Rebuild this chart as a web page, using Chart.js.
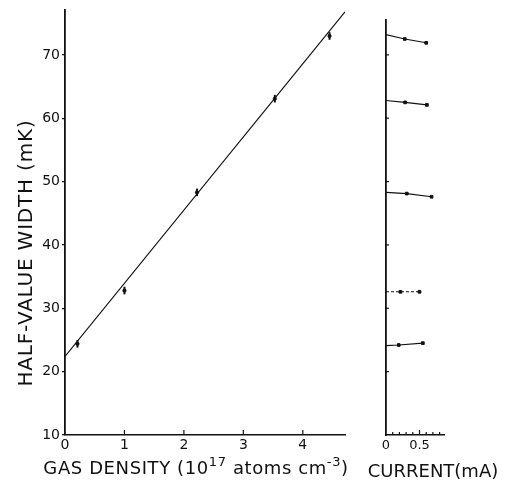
<!DOCTYPE html>
<html><head><meta charset="utf-8">
<script src="https://cdn.jsdelivr.net/npm/chart.js@4/dist/chart.umd.min.js"></script>
<style>
html,body{margin:0;padding:0;background:#fff;}
#wrap{position:relative;width:505px;height:482px;overflow:hidden;background:#fff;}
#c1{position:absolute;left:0;top:0;}
#c2{position:absolute;left:360px;top:0;}
</style></head><body>
<div id="wrap"><canvas id="c1" width="360" height="482"></canvas><canvas id="c2" width="145" height="482"></canvas></div>
<script>
// ---- Left panel: half-value width vs gas density ----
const densityX = [0.21, 1.00, 2.22, 3.53, 4.45];
const widthY   = [24.4, 32.8, 48.3, 63.1, 73.0];
const fitX = [0, 4.71];
const fitY = [22.4, 76.8];
const densityTicks = [0, 1, 2, 3, 4];
const widthTicks = [10, 20, 30, 40, 50, 60, 70];

// ---- Right panel: half-value width vs current ----
const currentS1 = [0, 0.28, 0.60]; const widthS1 = [73.2, 72.5, 71.9];
const currentS2 = [0, 0.285, 0.61]; const widthS2 = [62.8, 62.5, 62.1];
const currentS3 = [0, 0.31, 0.68]; const widthS3 = [48.3, 48.1, 47.6];
const currentS4 = [0, 0.215, 0.50]; const widthS4 = [32.6, 32.6, 32.6];
const currentS5 = [0, 0.19, 0.55]; const widthS5 = [24.1, 24.2, 24.5];
const currentTicks = [0, 0.5];
const currentMinorTicks = [0.1, 0.2, 0.3, 0.4, 0.6, 0.7, 0.8];
const rightWidthTicks = [20, 30, 40, 50, 60, 70];

// ---- Texts ----
const yTitle = 'HALF-VALUE WIDTH (mK)';
const xTitleParts = [['GAS DENSITY (10', false], ['17', true], [' atoms cm', false], ['-3', true], [')', false]];
const x2Title = 'CURRENT(mA)';

const FONT = '"DejaVu Sans", "Liberation Sans", sans-serif';
const INK = '#111';

const toPts = (xs, ys) => xs.map((x, i) => ({x: x, y: ys[i]}));

function innerTicksPlugin(spec) {
  return {
    id: 'innerTicks',
    afterDraw(chart) {
      const ctx = chart.ctx, a = chart.chartArea;
      ctx.save();
      ctx.strokeStyle = INK; ctx.lineWidth = 1.2;
      (spec.x || []).forEach(g => g.values.forEach(v => {
        const px = chart.scales.x.getPixelForValue(v);
        ctx.beginPath(); ctx.moveTo(px, a.bottom); ctx.lineTo(px, a.bottom - g.len); ctx.stroke();
      }));
      (spec.y || []).forEach(g => g.values.forEach(v => {
        const py = chart.scales.y.getPixelForValue(v);
        ctx.beginPath(); ctx.moveTo(a.left, py); ctx.lineTo(a.left + g.len, py); ctx.stroke();
      }));
      ctx.restore();
    }
  };
}

function drawParts(ctx, parts, cx, baseline, size, supSize, spacing) {
  ctx.letterSpacing = spacing + 'px';
  let total = 0;
  const widths = parts.map(p => {
    ctx.font = (p[1] ? supSize : size) + 'px ' + FONT;
    const w = ctx.measureText(p[0]).width; total += w; return w;
  });
  let x = cx - total / 2;
  parts.forEach((p, i) => {
    ctx.font = (p[1] ? supSize : size) + 'px ' + FONT;
    ctx.fillText(p[0], x, p[1] ? baseline - size * 0.45 : baseline);
    x += widths[i];
  });
}

const leftTitles = {
  id: 'leftTitles',
  afterDraw(chart) {
    const ctx = chart.ctx;
    ctx.save();
    ctx.fillStyle = INK; ctx.textBaseline = 'alphabetic'; ctx.textAlign = 'left';
    drawParts(ctx, xTitleParts, 196, 474, 18, 13, 0.6);
    ctx.translate(32, 253);
    ctx.rotate(-Math.PI / 2);
    ctx.font = '20px ' + FONT; ctx.letterSpacing = '0.8px'; ctx.textAlign = 'center';
    ctx.fillText(yTitle, 0, 0);
    ctx.restore();
  }
};

const rightTitles = {
  id: 'rightTitles',
  afterDraw(chart) {
    const ctx = chart.ctx;
    ctx.save();
    ctx.fillStyle = INK; ctx.textBaseline = 'alphabetic'; ctx.textAlign = 'center';
    ctx.font = '18px ' + FONT; ctx.letterSpacing = '0px';
    ctx.fillText(x2Title, 73, 477);
    ctx.restore();
  }
};

Chart.defaults.font.family = FONT;
Chart.defaults.color = INK;

// ---- Left chart ----
new Chart(document.getElementById('c1'), {
  type: 'scatter',
  data: {
    datasets: [
      { data: toPts(fitX, fitY), showLine: true, borderColor: INK, borderWidth: 1.2, pointRadius: 0 },
      { data: toPts(densityX, widthY), pointStyle: 'line', rotation: 90, pointRadius: 3.8,
        borderColor: INK, borderWidth: 2, backgroundColor: INK },
      { data: toPts(densityX, widthY), pointStyle: 'circle', pointRadius: 1.8,
        borderColor: INK, borderWidth: 0.5, backgroundColor: INK }
    ]
  },
  options: {
    responsive: false, animation: false, devicePixelRatio: 1,
    layout: { padding: { left: 0, right: 15, top: 10, bottom: 0 } },
    plugins: { legend: { display: false }, tooltip: { enabled: false } },
    scales: {
      x: {
        type: 'linear', min: 0, max: 4.71,
        afterFit(s) { s.height = 47; s.paddingLeft = 0; s.paddingRight = 0; },
        afterBuildTicks(s) { s.ticks = densityTicks.map(v => ({value: v})); },
        ticks: { font: { size: 14 }, padding: 2, color: INK, autoSkip: false, maxRotation: 0 },
        grid: { display: true, drawOnChartArea: false, drawTicks: false, color: 'rgba(0,0,0,0)' },
        border: { display: true, color: INK, width: 1.5 }
      },
      y: {
        type: 'linear', min: 10, max: 77.1,
        afterFit(s) { s.width = 65; s.paddingTop = 0; s.paddingBottom = 0; },
        afterBuildTicks(s) { s.ticks = widthTicks.map(v => ({value: v})); },
        ticks: { font: { size: 14 }, padding: 2, color: INK, autoSkip: false },
        grid: { display: true, drawOnChartArea: false, drawTicks: true, tickLength: 3, color: INK, lineWidth: 1.2 },
        border: { display: true, color: INK, width: 1.8 }
      }
    }
  },
  plugins: [innerTicksPlugin({ x: [{ values: densityTicks.slice(1), len: 5 }] }), leftTitles]
});

// ---- Right chart ----
function rightSet(xs, ys, dash) {
  return {
    data: toPts(xs, ys), showLine: true, borderColor: INK, borderWidth: 1.1,
    borderDash: dash || [], pointStyle: 'rect',
    pointRadius: xs.map((x, i) => i === 0 ? 0 : 1.9),
    backgroundColor: INK, pointBorderColor: INK, pointBorderWidth: 1
  };
}
new Chart(document.getElementById('c2'), {
  type: 'scatter',
  data: {
    datasets: [
      rightSet(currentS1, widthS1),
      rightSet(currentS2, widthS2),
      rightSet(currentS3, widthS3),
      rightSet(currentS4, widthS4, [3, 2]),
      rightSet(currentS5, widthS5)
    ]
  },
  options: {
    responsive: false, animation: false, devicePixelRatio: 1,
    layout: { padding: { left: 0, right: 60.7, top: 20, bottom: 0 } },
    plugins: { legend: { display: false }, tooltip: { enabled: false } },
    scales: {
      x: {
        type: 'linear', min: 0, max: 0.87,
        afterFit(s) { s.height = 47; s.paddingLeft = 0; s.paddingRight = 0; },
        afterBuildTicks(s) { s.ticks = currentTicks.map(v => ({value: v})); },
        ticks: { font: { size: 13 }, padding: 3, color: INK, autoSkip: false, maxRotation: 0 },
        grid: { display: true, drawOnChartArea: false, drawTicks: false, color: 'rgba(0,0,0,0)' },
        border: { display: true, color: INK, width: 1.5 }
      },
      y: {
        type: 'linear', min: 10, max: 75.5,
        afterFit(s) { s.width = 26; s.paddingTop = 0; s.paddingBottom = 0; },
        ticks: { display: false },
        grid: { display: false },
        border: { display: true, color: INK, width: 1.8 }
      }
    }
  },
  plugins: [innerTicksPlugin({
    x: [{ values: currentMinorTicks, len: 3 }, { values: [0.5], len: 5 }],
    y: [{ values: rightWidthTicks, len: 3 }]
  }), rightTitles]
});
</script>
</body></html>
